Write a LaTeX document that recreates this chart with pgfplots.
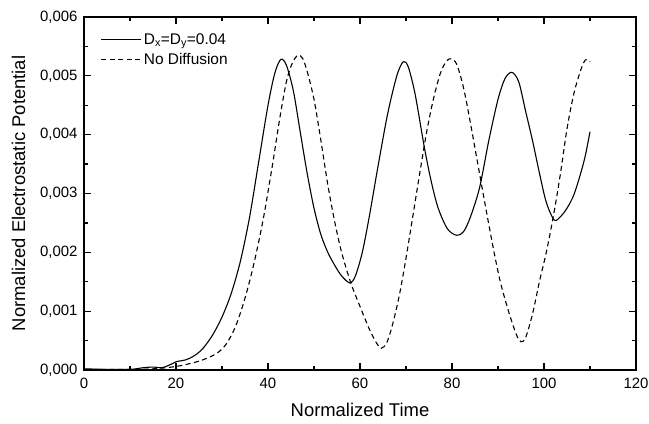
\documentclass[border=0pt]{standalone}
\usepackage{fontspec}
\setmainfont{Liberation Sans}
\usepackage{pgfplots}
\pgfplotsset{compat=1.18}

\begin{document}
\begin{tikzpicture}
\begin{axis}[
    scale only axis,
    width=552bp, height=353bp,
    xmin=0, xmax=120, ymin=0, ymax=0.006,
    xtick={0,20,...,120},
    ytick={0,0.001,...,0.006},
    minor x tick num=1,
    minor y tick num=1,
    tick align=inside,
    major tick length=7bp,
    minor tick length=4bp,
    axis line style={line width=1.6bp},
    every tick/.style={line width=1.3bp, black},
    scaled y ticks=false,
    tick label style={font=\fontsize{15}{17}\selectfont},
    yticklabel style={xshift=-3bp, /pgf/number format/.cd, fixed, fixed zerofill, precision=3, use comma, assume math mode=true},
    xticklabel style={yshift=-5bp, /pgf/number format/assume math mode=true},
    xlabel={Normalized Time},
    ylabel={Normalized Electrostatic Potential},
    label style={font=\fontsize{18.5}{20}\selectfont},
    xlabel style={yshift=-7bp},
    ylabel style={yshift=8bp},
    legend style={at={(axis description cs:0.03,0.96)}, anchor=north west, draw=none, fill=none,
        font=\fontsize{15.5}{17}\selectfont, row sep=4bp, inner sep=0pt},
    legend cell align=left,
    legend image code/.code={\draw[#1, line width=1.1bp] (0bp,0bp) -- (40bp,0bp);},
]
\addplot[black, line width=1.1bp, smooth, tension=0.5] coordinates {
(0,0.00002) (5,0.00001) (10,0.00001) (13,0.00004) (15,0.00005) (17,0.00004)
(19,0.00010) (20,0.00014) (22,0.00017) (23,0.00020) (24.5,0.00027) (26,0.00038)
(28,0.00060) (30,0.00090) (32,0.00130) (34,0.00185) (36,0.00260) (38,0.00355)
(40,0.00450) (41.5,0.00505) (42.8,0.00528) (44,0.00518) (45.5,0.00475)
(47,0.00405) (48.5,0.00335) (50,0.00275) (51.5,0.00230) (53,0.00200) (54.5,0.00178)
(56,0.00160) (57.8,0.00148) (59,0.00160) (60.5,0.00200) (62,0.00260) (64,0.00350)
(66,0.00435) (68,0.00500) (69.4,0.00524) (70.5,0.00515) (72,0.00468) (74,0.00378)
(75.5,0.00320) (77,0.00275) (79,0.00240) (81,0.00229) (82.5,0.00235) (84,0.00260)
(86,0.00310) (88,0.00390) (90,0.00460) (91.5,0.00495) (93,0.00506) (94.5,0.00490)
(96,0.00440) (97.5,0.00390) (99,0.00335) (100.5,0.00285) (102.2,0.00255) (103.5,0.00260)
(105,0.00275) (106.5,0.00298) (108,0.00335) (109,0.00365) (110,0.00405)
};
\addlegendentry{D\textsubscript{x}=D\textsubscript{y}=0.04}
\addplot[black, line width=1.1bp, dash pattern=on 5bp off 3.5bp, smooth, tension=0.5] coordinates {
(0,0.00001) (10,0.00001) (15,0.00002) (18,0.00004) (20,0.00006) (22,0.00009)
(25,0.00015) (27,0.00021) (29,0.00029) (31,0.00045) (33,0.00075) (35,0.00122)
(37,0.00183) (39,0.00258) (41,0.00350) (42.5,0.00425) (44,0.00490)
(45.3,0.00522) (46.5,0.00535) (47.5,0.00530) (48.5,0.00508) (50,0.00460) (51.5,0.00390)
(53,0.00315) (54.5,0.00252) (56,0.00200) (58,0.00148) (60,0.00108) (62,0.00070)
(63.5,0.00047) (64.6,0.00037) (65.8,0.00046) (67,0.00075) (68.5,0.00125) (70,0.00190)
(71.5,0.00262) (73,0.00335) (74.5,0.00405) (76,0.00462) (77.5,0.00505) (78.8,0.00525)
(79.8,0.00529) (81,0.00520) (82.5,0.00480) (84,0.00420) (85.5,0.00355) (87,0.00290)
(88.9,0.00210) (90.5,0.00150) (92.4,0.00097) (94,0.00060) (95,0.00048) (96,0.00055)
(97.5,0.00095) (99,0.00150) (100.5,0.00200) (102,0.00260) (103.5,0.00330) (105,0.00410)
(106.5,0.00470) (108,0.00510) (109,0.00527) (110,0.00524)
};
\addlegendentry{No Diffusion}
\end{axis}
\pgfresetboundingbox
\path[use as bounding box] (-84bp,-54bp) rectangle (565bp,370bp);
\end{tikzpicture}
\end{document}
